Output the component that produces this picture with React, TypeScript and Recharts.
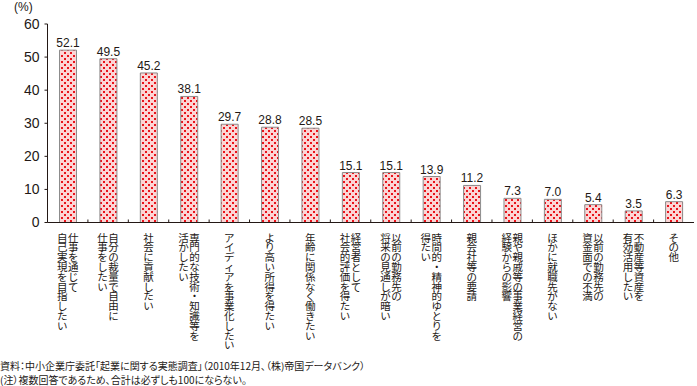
import React from 'react'
import { BarChart, Bar, XAxis, YAxis, LabelList } from 'recharts'

// 起業の動機（複数回答）
const categories = [
  '仕事を通じて\n自己実現を目指したい',
  '自分の裁量で自由に\n仕事をしたい',
  '社会に貢献したい',
  '専門的な技術・知識等を\n活かしたい',
  'アイディアを事業化したい',
  'より高い所得を得たい',
  '年齢に関係なく働きたい',
  '経営者として\n社会的評価を得たい',
  '以前の勤務先の\n将来の見通しが暗い',
  '時間的・精神的ゆとりを\n得たい',
  '親会社等の要請',
  '親や親戚等の事業経営の\n経験からの影響',
  'ほかに就職先がない',
  '以前の勤務先の\n資金面での不満',
  '不動産等資産を\n有効活用したい',
  'その他',
]

const values = [52.1, 49.5, 45.2, 38.1, 29.7, 28.8, 28.5, 15.1, 15.1, 13.9, 11.2, 7.3, 7.0, 5.4, 3.5, 6.3]

const yTicks = [0, 10, 20, 30, 40, 50, 60]

const notes = [
  '資料：中小企業庁委託「起業に関する実態調査」（2010年12月、（株)帝国データバンク）',
  '(注）複数回答であるため、合計は必ずしも100にならない。',
]

const data = categories.map((name, i) => ({ name, value: values[i] }))

const JP_FONT = '"Noto Sans CJK JP", "Noto Sans", sans-serif'
const NUM_FONT = '"Liberation Sans", Arial, sans-serif'
const TEXT = '#231815'
const PITCH = 9.8

// 縦書きラベル：1文字ずつ積む（右の列が1行目）
const CategoryTick = (props: any) => {
  const { x, y, payload, index } = props
  const lines: string[] = String(payload.value).split('\n')
  const half = payload.offset ?? 20
  const isLast = index === categories.length - 1
  return (
    <g>
      {!isLast && (
        <line x1={x + half} x2={x + half} y1={y} y2={y - 3} stroke={TEXT} strokeWidth={1} />
      )}
      {lines.map((line, i) => {
        const cx = x + (lines.length - 1) * 5.5 - i * 11
        return Array.from(line).map((ch, k) => (
          <text
            key={`${i}-${k}`}
            x={cx}
            y={y + 19 + k * PITCH}
            textAnchor="middle"
            fontSize={10.5}
            fontFamily={JP_FONT}
            fill={TEXT}
          >
            {ch}
          </text>
        ))
      })}
    </g>
  )
}

export default function App() {
  return (
    <div style={{ position: 'relative', width: 697, height: 386, background: '#fff' }}>
      <style>{`body{margin:0}`}</style>
      <BarChart
        width={697}
        height={386}
        data={data}
        margin={{ top: 24, right: 3, left: 0, bottom: 0 }}
      >
        <defs>
          <pattern id="dots" width="6" height="6" patternUnits="userSpaceOnUse">
            <rect width="6" height="6" fill="#fcd5d5" />
            <rect x="1" y="1" width="2" height="2" fill="#e8131b" />
            <rect x="4" y="4" width="2" height="2" fill="#e8131b" />
          </pattern>
        </defs>
        <XAxis
          dataKey="name"
          interval={0}
          height={163.5}
          tickSize={0}
          tickMargin={0}
          tickLine={false}
          axisLine={{ stroke: TEXT }}
          tick={<CategoryTick />}
        />
        <YAxis
          domain={[0, 60]}
          ticks={yTicks}
          width={47.5}
          tickSize={3}
          tickMargin={5}
          axisLine={{ stroke: TEXT }}
          tickLine={{ stroke: TEXT }}
          tick={{ fontSize: 14, fill: TEXT, fontFamily: NUM_FONT }}
        />
        <Bar
          dataKey="value"
          barSize={17}
          fill="url(#dots)"
          stroke="#8c8c8c"
          strokeWidth={1}
          isAnimationActive={false}
        >
          <LabelList
            dataKey="value"
            position="top"
            offset={3}
            formatter={(v: any) => Number(v).toFixed(1)}
            style={{ fontSize: 12, fill: TEXT, fontFamily: NUM_FONT }}
          />
        </Bar>
      </BarChart>
      <div style={{ position: 'absolute', left: 14, top: 0, fontSize: 12, color: TEXT, fontFamily: NUM_FONT }}>
        (%)
      </div>
      <div
        style={{
          position: 'absolute',
          left: 0,
          top: 359,
          fontSize: 10,
          lineHeight: '14px',
          color: TEXT,
          fontFamily: JP_FONT,
          fontFeatureSettings: '"palt"',
          whiteSpace: 'nowrap',
        }}
      >
        {notes.map((n, i) => (
          <div key={i}>{n}</div>
        ))}
      </div>
    </div>
  )
}
